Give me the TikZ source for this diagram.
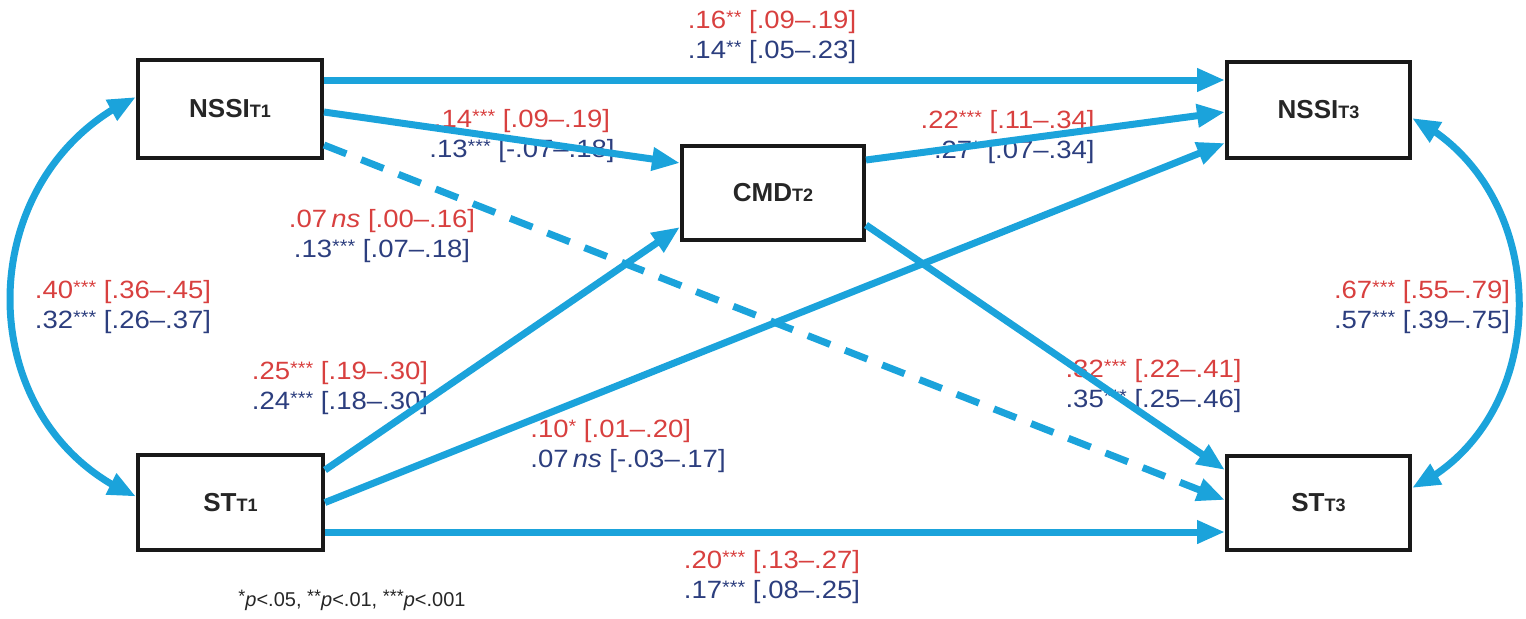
\documentclass[tikz,border=0pt]{standalone}
\usepackage{fontspec}
\setmainfont{Liberation Sans}
\newfontfamily\labfont{Liberation Sans}[FakeStretch=1.1]
\usetikzlibrary{arrows.meta,bending,calc}
\definecolor{arrowc}{HTML}{1BA3DB}
\definecolor{redt}{HTML}{D8403F}
\definecolor{bluet}{HTML}{2C3E7E}
\newcommand\sg[1]{\raisebox{0.4ex}{\fontsize{9}{9}\selectfont #1}}
\newcommand\sbt[1]{{\fontsize{9}{9}\selectfont #1}}
\newcommand\twoline[2]{\textcolor{redt}{#1}\\\textcolor{bluet}{#2}}
\begin{document}
\begin{tikzpicture}[x=0.5pt,y=-0.5pt,
  box/.style={draw=black!90,line width=2pt,fill=white,inner sep=0pt,font=\fontsize{13}{14}\selectfont\bfseries,text=black!85},
  conn/.style={draw=arrowc,line width=3.5pt,-{Triangle[length=14pt,width=11pt]}},
  dconn/.style={conn,dash pattern=on 12pt off 8pt},
  corr/.style={draw=arrowc,line width=3.5pt,{Triangle[length=14pt,width=11pt]}-{Triangle[length=14pt,width=11pt]}},
  lab/.style={inner sep=0pt,font=\labfont\fontsize{12.5}{15}\selectfont},
  foot/.style={inner sep=0pt,font=\fontsize{10}{12}\selectfont,text=black!85}
]
\useasboundingbox (0,0) rectangle (1526,618);
% boxes
\node[box,minimum width=92pt,minimum height=49pt] (n1) at (230,109) {NSSI\sbt{T1}};
\node[box,minimum width=92.5pt,minimum height=47.5pt] (s1) at (230.5,502.5) {ST\sbt{T1}};
\node[box,minimum width=91pt,minimum height=47pt] (cmd) at (773,193) {CMD\sbt{T2}};
\node[box,minimum width=91.5pt,minimum height=48pt] (n3) at (1318.5,110) {NSSI\sbt{T3}};
\node[box,minimum width=91.5pt,minimum height=47pt] (s3) at (1318.5,503) {ST\sbt{T3}};
% labels
\node[lab,align=center] (lA) at (772,37) {\twoline{.16\sg{**} [.09–.19]}{.14\sg{**} [.05–.23]}};
\node[lab,align=center] (lB) at (522,136) {\twoline{.14\sg{***} [.09–.19]}{.13\sg{***} [-.07–.18]}};
\node[lab,align=right,anchor=east] (lD) at (1095,137) {\twoline{.22\sg{***} [.11–.34]}{.27\sg{*} [.07–.34]}};
\node[lab,align=center] (lC) at (382,236) {\twoline{.07\,\textit{ns} [.00–.16]}{.13\sg{***} [.07–.18]}};
\node[lab,align=center] (lL) at (123,307) {\twoline{.40\sg{***} [.36–.45]}{.32\sg{***} [.26–.37]}};
\node[lab,align=center] (lF) at (340,388) {\twoline{.25\sg{***} [.19–.30]}{.24\sg{***} [.18–.30]}};
\node[lab,align=left,anchor=west] (lG) at (530,446) {\twoline{.10\sg{*} [.01–.20]}{.07\,\textit{ns} [-.03–.17]}};
\node[lab,align=right,anchor=east] (lE) at (1242,386) {\twoline{.32\sg{***} [.22–.41]}{.35\sg{***} [.25–.46]}};
\node[lab,align=center] (lR) at (1422,307) {\twoline{.67\sg{***} [.55–.79]}{.57\sg{***} [.39–.75]}};
\node[lab,align=center] (lH) at (772,577) {\twoline{.20\sg{***} [.13–.27]}{.17\sg{***} [.08–.25]}};
\node[foot] (fn) at (352,600) {\sg{*}\textit{p}<.05, \sg{**}\textit{p}<.01, \sg{***}\textit{p}<.001};
% connectors
\draw[conn] ([yshift=14.5pt]n1.east) -- ([yshift=15pt]n3.west);
\draw[conn] ([yshift=-1.5pt]n1.east) -- ([yshift=15pt]cmd.west);
\draw[dconn] ([yshift=-18pt]n1.east) -- ([yshift=1.5pt]s3.west);
\draw[conn] ([yshift=16.5pt]cmd.east) -- ([yshift=-1pt]n3.west);
\draw[conn] ([yshift=-16pt]cmd.east) -- ([yshift=16.5pt]s3.west);
\draw[conn] ([yshift=16.25pt]s1.east) -- ([yshift=-17pt]cmd.west);
\draw[conn] (s1.east) -- ([yshift=-16.5pt]n3.west);
\draw[conn] ([yshift=-14.75pt]s1.east) -- ([yshift=-14.5pt]s3.west);
% correlations
\draw[corr] ([yshift=6pt]n1.west) .. controls (-32,175) and (-32,425) .. ([yshift=3pt]s1.west);
\draw[corr] ([yshift=-4pt]n3.east) .. controls (1555,190) and (1555,420) .. ([yshift=7.5pt]s3.east);
\end{tikzpicture}
\end{document}
